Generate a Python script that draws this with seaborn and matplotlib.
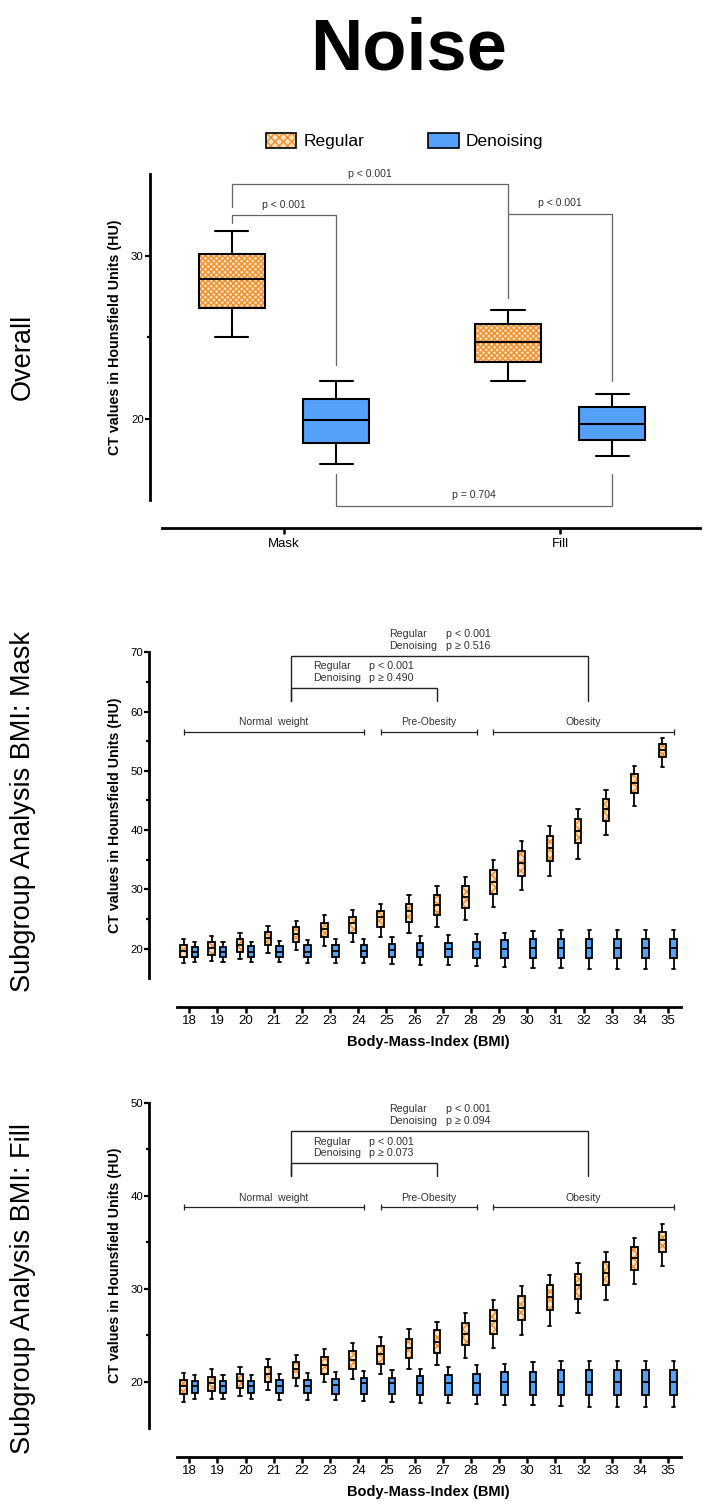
import numpy as np
import pandas as pd
import matplotlib
matplotlib.use("Agg")
import matplotlib.pyplot as plt
import matplotlib.transforms as mtransforms
from matplotlib.patches import Patch, PathPatch
from matplotlib.legend_handler import HandlerTuple
import seaborn as sns

sns.set_style("ticks")
plt.rcParams["font.family"] = ["Liberation Sans", "DejaVu Sans"]
plt.rcParams["hatch.linewidth"] = 1.0
for key in ("text.color", "axes.labelcolor", "xtick.color", "ytick.color", "axes.edgecolor"):
    plt.rcParams[key] = "black"

ORANGE = "#F2902C"
REG_FACE = "#FCE0C2"
BLUE = "#55A0F8"
methods = ["Regular", "Denoising"]

# five-number summaries: (min, q1, median, q3, max)
overall_groups = ["Mask", "Fill"]
overall_regular = [(25.0, 26.8, 28.6, 30.1, 31.5), (22.3, 23.5, 24.7, 25.8, 26.7)]
overall_denoising = [(17.2, 18.5, 19.9, 21.2, 22.3), (17.7, 18.7, 19.7, 20.7, 21.5)]

bmi_labels = ["18", "19", "20", "21", "22", "23", "24", "25", "26",
              "27", "28", "29", "30", "31", "32", "33", "34", "35"]

mask_regular = [
    (17.5, 18.6, 19.6, 20.6, 21.6), (17.9, 19.0, 20.1, 21.1, 22.1),
    (18.3, 19.5, 20.6, 21.6, 22.6), (19.3, 20.6, 21.8, 22.8, 23.9),
    (19.8, 21.2, 22.5, 23.6, 24.7), (20.5, 21.9, 23.3, 24.4, 25.6),
    (21.2, 22.6, 24.3, 25.4, 26.6), (22.0, 23.6, 25.4, 26.4, 27.6),
    (22.7, 24.5, 26.3, 27.6, 29.0), (23.7, 25.6, 27.3, 29.0, 30.5),
    (24.9, 26.9, 28.8, 30.6, 32.1), (27.1, 29.3, 31.2, 33.3, 35.0),
    (29.9, 32.3, 34.4, 36.5, 38.1), (32.2, 34.8, 36.9, 39.0, 40.7),
    (35.2, 37.8, 39.9, 41.8, 43.5), (39.1, 41.5, 43.6, 45.3, 46.8),
    (44.0, 46.2, 47.9, 49.5, 50.8), (50.6, 52.3, 53.5, 54.6, 55.5),
]
mask_denoising = [
    (17.8, 18.6, 19.5, 20.3, 21.2), (17.8, 18.6, 19.5, 20.3, 21.2),
    (17.8, 18.6, 19.5, 20.4, 21.2), (17.7, 18.6, 19.5, 20.5, 21.3),
    (17.6, 18.6, 19.5, 20.6, 21.4), (17.6, 18.6, 19.6, 20.6, 21.6),
    (17.5, 18.6, 19.6, 20.7, 21.7), (17.4, 18.6, 19.8, 20.8, 21.9),
    (17.3, 18.6, 19.8, 20.9, 22.1), (17.2, 18.6, 19.9, 21.0, 22.3),
    (17.0, 18.5, 20.0, 21.2, 22.5), (16.9, 18.5, 20.0, 21.4, 22.7),
    (16.8, 18.5, 20.1, 21.6, 22.9), (16.7, 18.4, 20.1, 21.7, 23.1),
    (16.6, 18.4, 20.1, 21.7, 23.2), (16.6, 18.4, 20.1, 21.7, 23.2),
    (16.6, 18.4, 20.1, 21.7, 23.2), (16.6, 18.4, 20.1, 21.7, 23.2),
]
fill_regular = [
    (17.8, 18.7, 19.5, 20.2, 20.9), (18.1, 19.0, 19.8, 20.5, 21.3),
    (18.4, 19.3, 20.1, 20.8, 21.6), (19.1, 20.0, 20.8, 21.6, 22.4),
    (19.5, 20.4, 21.3, 22.1, 22.9), (19.9, 20.8, 21.8, 22.6, 23.5),
    (20.3, 21.4, 22.3, 23.3, 24.1), (20.8, 21.9, 23.0, 23.8, 24.8),
    (21.3, 22.5, 23.6, 24.6, 25.6), (21.8, 23.1, 24.3, 25.5, 26.4),
    (22.5, 23.9, 25.1, 26.3, 27.4), (23.6, 25.1, 26.5, 27.7, 28.8),
    (25.0, 26.6, 27.9, 29.2, 30.3), (26.0, 27.7, 29.1, 30.4, 31.5),
    (27.4, 28.9, 30.4, 31.6, 32.7), (28.8, 30.4, 31.7, 32.9, 33.9),
    (30.5, 32.0, 33.3, 34.5, 35.4), (32.4, 33.9, 35.2, 36.1, 37.0),
]
fill_denoising = [
    (18.1, 18.8, 19.5, 20.1, 20.7), (18.1, 18.8, 19.5, 20.1, 20.7),
    (18.1, 18.8, 19.5, 20.1, 20.7), (18.0, 18.8, 19.5, 20.2, 20.8),
    (18.0, 18.8, 19.5, 20.2, 20.9), (18.0, 18.7, 19.6, 20.3, 21.0),
    (17.9, 18.7, 19.8, 20.4, 21.1), (17.8, 18.7, 19.8, 20.4, 21.2),
    (17.7, 18.6, 19.8, 20.6, 21.4), (17.7, 18.6, 19.8, 20.7, 21.6),
    (17.6, 18.6, 19.8, 20.8, 21.8), (17.5, 18.6, 19.9, 21.0, 21.9),
    (17.5, 18.6, 19.9, 21.0, 22.1), (17.4, 18.6, 20.0, 21.2, 22.2),
    (17.3, 18.6, 20.0, 21.2, 22.2), (17.3, 18.6, 20.0, 21.2, 22.2),
    (17.3, 18.6, 20.0, 21.2, 22.2), (17.3, 18.6, 20.0, 21.2, 22.2),
]

# BMI groups: (label, first index, last index)
bmi_groups = [("Normal  weight", 0, 6), ("Pre-Obesity", 7, 10), ("Obesity", 11, 17)]
mask_pvals = [("p < 0.001", "p \u2265 0.490"), ("p < 0.001", "p \u2265 0.516")]
fill_pvals = [("p < 0.001", "p \u2265 0.073"), ("p < 0.001", "p \u2265 0.094")]

W, H = 703, 1508
fig = plt.figure(figsize=(W / 100, H / 100), dpi=100)


def px_axes(left, top, right, bottom):
    return fig.add_axes([left / W, 1 - bottom / H, (right - left) / W, (bottom - top) / H])


def draw_boxes(ax, cats, reg, den, width, gap, lw, hatch):
    rows = []
    for cat, r, d in zip(cats, reg, den):
        rows += [(cat, "Regular", v) for v in r]
        rows += [(cat, "Denoising", v) for v in d]
    df = pd.DataFrame(rows, columns=["cat", "method", "value"])
    sns.boxplot(data=df, x="cat", y="value", hue="method", order=cats,
                hue_order=methods, palette={"Regular": REG_FACE, "Denoising": BLUE},
                width=width, gap=gap, whis=(0, 100), linewidth=lw,
                linecolor="black", showfliers=False, saturation=1,
                legend=False, ax=ax)
    target = np.array(matplotlib.colors.to_rgba(REG_FACE))
    for p in list(ax.patches):
        if np.allclose(p.get_facecolor(), target, atol=0.01):
            p.set_hatch(hatch)
            p.set_edgecolor(ORANGE)
            p.set_linewidth(0)
            ax.add_patch(PathPatch(p.get_path(), transform=p.get_transform(),
                                   fill=False, edgecolor="black", linewidth=lw,
                                   zorder=p.get_zorder() + 0.01))


def style_axes(ax, left_out, bottom_out, label_x):
    sns.despine(ax=ax)
    ax.spines["left"].set_position(("outward", left_out * 0.72))
    ax.spines["bottom"].set_position(("outward", bottom_out * 0.72))
    for s in ("left", "bottom"):
        ax.spines[s].set_linewidth(2.0)
    ax.tick_params(axis="y", which="major", length=3.5, width=1.6, labelsize=8.2, pad=1)
    ax.tick_params(axis="y", which="minor", length=2.5, width=1.6)
    ax.tick_params(axis="x", which="major", length=4, width=1.8, labelsize=9.5, pad=2)
    ax.set_ylabel("CT values in Hounsfield Units (HU)", fontsize=10.3, fontweight="bold")
    tr = mtransforms.blended_transform_factory(fig.transFigure, ax.transAxes)
    ax.yaxis.set_label_coords(label_x / W, 0.5, transform=tr)


def bracket(ax, x1, x2, y, y1, y2, color, lw):
    ax.plot([x1, x1, x2, x2], [y1, y, y, y2], color=color, lw=lw,
            clip_on=False, solid_joinstyle="miter", zorder=5)


# ---------------- Overall ----------------
TOP_WIDTH = 0.754
ax1 = px_axes(162, 174.5, 700, 500)
draw_boxes(ax1, overall_groups, overall_regular, overall_denoising,
           TOP_WIDTH, 0.365, 1.5, "xxxxxx")
ax1.set_xlim(-0.442, 1.507)
ax1.set_ylim(15, 35)
ax1.set_yticks([20, 30])
ax1.set_yticks([25], minor=True)
ax1.set_xlabel("")
style_axes(ax1, 12, 28.3, 122)
ax1.tick_params(axis="x", pad=3)

off = TOP_WIDTH / 4
gray = "#666666"
txt_kw = dict(fontsize=7.6, color="#333333", ha="center", va="center", clip_on=False)
bracket(ax1, -off, 1 - off, 34.4, 33.0, 27.4, gray, 0.9)
ax1.text(0.5 - off, 35.05, "p < 0.001", **txt_kw)
bracket(ax1, -off, off, 32.5, 32.0, 23.3, gray, 0.9)
ax1.text(0, 33.15, "p < 0.001", **txt_kw)
bracket(ax1, 1 - off, 1 + off, 32.6, 32.6, 22.3, gray, 0.9)
ax1.text(1, 33.25, "p < 0.001", **txt_kw)
bracket(ax1, off, 1 + off, 14.65, 16.6, 16.6, gray, 0.9)
ax1.text(0.5 + off, 15.3, "p = 0.704", **txt_kw)


# ---------------- BMI panels ----------------
def bmi_panel(top, bottom, reg, den, ylim, yticks, yminor, ann, pvals):
    ax = px_axes(176.5, top, 680.5, bottom)
    draw_boxes(ax, bmi_labels, reg, den, 0.8, 0.42, 1.3, "xxxx")
    ax.set_xlim(-0.45, 17.44)
    ax.set_ylim(*ylim)
    ax.set_yticks(yticks)
    ax.set_yticks(yminor, minor=True)
    style_axes(ax, 27.3, 28.5, 122)
    ax.set_xlabel("Body-Mass-Index (BMI)", fontsize=10.5, fontweight="bold")
    tr = mtransforms.blended_transform_factory(ax.transAxes, fig.transFigure)
    ax.xaxis.set_label_coords(0.5, 1 - (bottom + 57) / H, transform=tr)

    group_y, group_txt_y, inner_y, outer_y, leg_y, inner_txt, outer_txt = ann
    for label, i0, i1 in bmi_groups:
        ax.plot([i0 - 0.2, i1 + 0.2], [group_y, group_y], color="#222222", lw=0.9,
                marker="|", markersize=5, markeredgewidth=0.9, clip_on=False)
        ax.text((i0 + i1) / 2, group_txt_y, label, fontsize=7.5, color="#333333",
                ha="center", va="center")
    bracket(ax, 3.6, 8.81, inner_y, leg_y, leg_y, "#222222", 1.0)
    bracket(ax, 3.6, 14.17, outer_y, leg_y, leg_y, "#222222", 1.0)
    kw = dict(fontsize=7.7, color="#333333", ha="left", va="center", clip_on=False)
    for (x_lab, x_p, ys), pv in zip([(4.39, 6.39, inner_txt), (7.10, 9.10, outer_txt)], pvals):
        ax.text(x_lab, ys[0], "Regular", **kw)
        ax.text(x_lab, ys[1], "Denoising", **kw)
        ax.text(x_p, ys[0], pv[0], **kw)
        ax.text(x_p, ys[1], pv[1], **kw)
    return ax


ax2 = bmi_panel(652.3, 978.3, mask_regular, mask_denoising, (15, 70),
                [20, 30, 40, 50, 60, 70], [25, 35, 45, 55, 65],
                (56.5, 58.3, 63.9, 69.4, 61.8, (67.7, 65.6), (73.1, 71.1)), mask_pvals)
ax3 = bmi_panel(1102.7, 1428, fill_regular, fill_denoising, (15, 50),
                [20, 30, 40, 50], [25, 35, 45],
                (38.75, 39.8, 43.5, 47.0, 42.1, (45.8, 44.6), (49.3, 48.0)), fill_pvals)

# ---------------- titles and legend ----------------
fig.text(409 / W, 1 - 69.5 / H, "Noise", fontsize=52, fontweight="bold",
         ha="center", va="baseline")
row_kw = dict(fontsize=19.5, rotation=90, ha="center", va="center")
fig.text(23 / W, 1 - 357 / H, "Overall", **row_kw)
fig.text(23 / W, 1 - 812 / H, "Subgroup Analysis BMI: Mask", **row_kw)
fig.text(23 / W, 1 - 1289 / H, "Subgroup Analysis BMI: Fill", **row_kw)

reg_handle = (Patch(facecolor=REG_FACE, edgecolor=ORANGE, hatch="xxxx", linewidth=0),
              Patch(fill=False, edgecolor="black", linewidth=1.2))
den_handle = Patch(facecolor=BLUE, edgecolor="black", linewidth=1.2)
fig.legend([reg_handle, den_handle], methods, loc="center",
           bbox_to_anchor=(404.5 / W, 1 - 141 / H), ncol=2, frameon=False,
           fontsize=12.5, handlelength=1.75, handleheight=1.0, handletextpad=0.4,
           columnspacing=3.7, handler_map={tuple: HandlerTuple(ndivide=1, pad=0)})

fig.savefig("out.png", dpi=100)
